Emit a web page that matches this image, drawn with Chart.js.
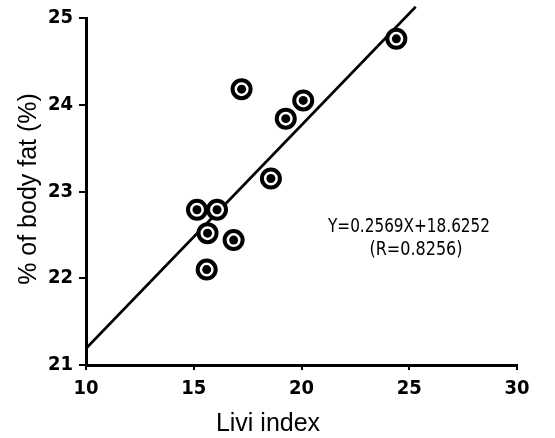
<!DOCTYPE html>
<html>
<head>
<meta charset="utf-8">
<script src="https://cdn.jsdelivr.net/npm/chart.js@4/dist/chart.umd.min.js"></script>
<style>
  html, body { margin: 0; padding: 0; background: #fff; }
  #wrap { width: 555px; height: 438px; }
</style>
</head>
<body>
<div id="wrap"><canvas id="c" width="555" height="438"></canvas></div>
<script>
// Data
const liviIndex = [15.15, 16.08, 17.22, 15.64, 16.85, 15.6, 18.58, 19.27, 20.08, 24.4];
const bodyFat   = [22.79, 22.79, 24.18, 22.52, 22.44, 22.1, 23.15, 23.84, 24.05, 24.76];
const fitX = [10, 25.3];
const fitY = [21.19, 25.13];
const xTicks = [10, 15, 20, 25, 30];
const yTicks = [21, 22, 23, 24, 25];
const equationText = "Y=0.2569X+18.6252";
const rText = "(R=0.8256)";
const xTitle = "Livi index";
const yTitle = "% of body fat (%)";

const NARROW = '"Liberation Sans Narrow", "DejaVu Sans Condensed", "Arial Narrow", sans-serif';
const SANS = '"Liberation Sans", Arial, Helvetica, sans-serif';

const pts = liviIndex.map((x, i) => ({ x, y: bodyFat[i] }));
const fit = fitX.map((x, i) => ({ x, y: fitY[i] }));

function squeezedText(ctx, text, cx, baseline, targetW) {
  const w = ctx.measureText(text).width;
  const s = Math.min(1, targetW / w);
  ctx.save();
  ctx.translate(cx, baseline);
  ctx.scale(s, 1);
  ctx.textAlign = 'center';
  ctx.fillText(text, 0, 0);
  ctx.restore();
}

const textPlugin = {
  id: 'texts',
  afterDraw(chart) {
    const ctx = chart.ctx;
    ctx.save();
    ctx.fillStyle = '#000';
    ctx.textBaseline = 'alphabetic';
    // x title
    ctx.font = '25px ' + SANS;
    ctx.textAlign = 'center';
    ctx.fillText(xTitle, 268, 431);
    // y title
    ctx.save();
    ctx.translate(36, 189);
    ctx.rotate(-Math.PI / 2);
    ctx.font = '25px ' + SANS;
    ctx.textAlign = 'center';
    ctx.fillText(yTitle, 0, 0);
    ctx.restore();
    // equation
    ctx.font = '19px ' + NARROW;
    squeezedText(ctx, equationText, 409, 232, 162);
    squeezedText(ctx, rText, 416, 255, 93);
    ctx.restore();
  }
};

new Chart(document.getElementById('c'), {
  type: 'scatter',
  data: {
    datasets: [
      {
        type: 'line',
        data: fit,
        borderColor: '#000',
        borderWidth: 2.6,
        pointRadius: 0,
        fill: false,
        clip: false,
        order: 3
      },
      {
        data: pts,
        pointRadius: 9,
        pointBorderWidth: 4,
        pointBackgroundColor: '#fff',
        pointBorderColor: '#000',
        order: 2
      },
      {
        data: pts,
        pointRadius: 4.5,
        pointBorderWidth: 0,
        pointBackgroundColor: '#000',
        pointBorderColor: '#000',
        order: 1
      }
    ]
  },
  options: {
    responsive: false,
    animation: false,
    events: [],
    layout: { padding: { top: 17, right: 38, left: 0, bottom: 0 } },
    plugins: { legend: { display: false }, tooltip: { enabled: false } },
    scales: {
      x: {
        type: 'linear',
        min: 10, max: 30,
        afterFit(s) { s.height = 73; },
        afterBuildTicks(s) { s.ticks = xTicks.map(v => ({ value: v })); },
        border: { display: true, color: '#000', width: 3 },
        grid: { display: true, drawOnChartArea: false, drawTicks: true, tickLength: 5, color: '#000', lineWidth: 2 },
        ticks: { color: '#000', padding: 7, font: { family: NARROW, size: 20, weight: 'bold' } }
      },
      y: {
        type: 'linear',
        min: 21, max: 25,
        afterFit(s) { s.width = 86; },
        afterBuildTicks(s) { s.ticks = yTicks.map(v => ({ value: v })); },
        border: { display: true, color: '#000', width: 3 },
        grid: { display: true, drawOnChartArea: false, drawTicks: true, tickLength: 7, color: '#000', lineWidth: 2 },
        ticks: { color: '#000', padding: 6, font: { family: NARROW, size: 20, weight: 'bold' } }
      }
    }
  },
  plugins: [textPlugin]
});
</script>
</body>
</html>
